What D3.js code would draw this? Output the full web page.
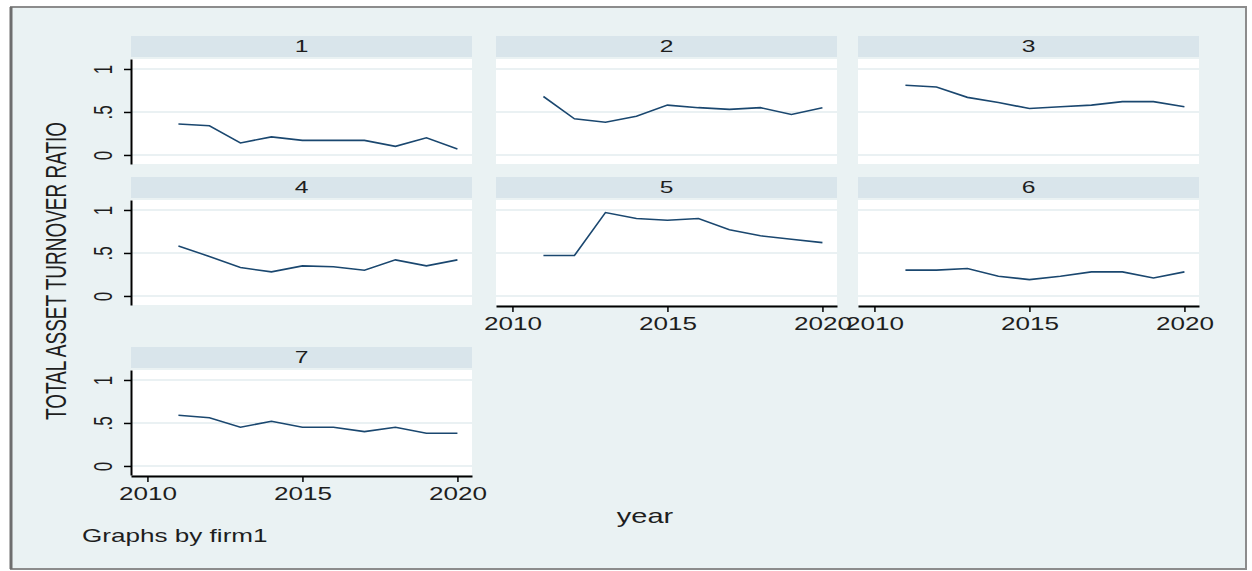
<!DOCTYPE html>
<html>
<head>
<meta charset="utf-8">
<script src="https://cdn.jsdelivr.net/npm/d3@7"></script>
<style>
  body { margin: 0; background: #fff; }
  text { font-family: "Liberation Sans", Arial, sans-serif; fill: #1e1e1e; }
</style>
</head>
<body>
<div id="chart"></div>
<script>
// data
const years = [2011, 2012, 2013, 2014, 2015, 2016, 2017, 2018, 2019, 2020];
const firms = ["1", "2", "3", "4", "5", "6", "7"];
const firm1 = [0.36, 0.34, 0.14, 0.21, 0.17, 0.17, 0.17, 0.10, 0.20, 0.07];
const firm2 = [0.68, 0.42, 0.38, 0.45, 0.58, 0.55, 0.53, 0.55, 0.47, 0.55];
const firm3 = [0.81, 0.79, 0.67, 0.61, 0.54, 0.56, 0.58, 0.62, 0.62, 0.56];
const firm4 = [0.58, 0.46, 0.33, 0.28, 0.35, 0.34, 0.30, 0.42, 0.35, 0.42];
const firm5 = [0.47, 0.47, 0.97, 0.90, 0.88, 0.90, 0.77, 0.70, 0.66, 0.62];
const firm6 = [0.30, 0.30, 0.32, 0.23, 0.19, 0.23, 0.28, 0.28, 0.21, 0.28];
const firm7 = [0.59, 0.56, 0.45, 0.52, 0.45, 0.45, 0.40, 0.45, 0.38, 0.38];
const series = [firm1, firm2, firm3, firm4, firm5, firm6, firm7];

const yTicks = [0, 0.5, 1];
const yTickLabels = ["0", ".5", "1"];
const xTicks = [2010, 2015, 2020];

const W = 1252, H = 571;
const bg = "#eaf2f3", strip = "#d9e5eb", lineColor = "#1a476f";

const colLeft = [131, 496, 858];
const rowTop = [36, 177, 347];
const panelW = 341;

const svg = d3.select("#chart").append("svg")
  .attr("width", W)
  .attr("height", H);

// outer graph region
svg.append("rect")
  .attr("x", 11).attr("y", 7)
  .attr("width", 1235).attr("height", 562)
  .attr("fill", bg)
  .attr("stroke", "#8c8c8c")
  .attr("stroke-width", 2);
svg.append("line")
  .attr("x1", 11).attr("x2", 11).attr("y1", 7).attr("y2", 569)
  .attr("stroke", "#6e6e6e").attr("stroke-width", 3);

firms.forEach((f, i) => {
  const col = i % 3, row = Math.floor(i / 3);
  const left = colLeft[col], top = rowTop[row];
  const g = svg.append("g");

  const x = d3.scaleLinear()
    .domain([2009.47, 2020.47])
    .range([left, left + panelW]);
  const y = d3.scaleLinear()
    .domain([-0.105, 1.116])
    .range([top + 128, top + 23]);

  // header strip
  g.append("rect")
    .attr("x", left).attr("y", top)
    .attr("width", panelW).attr("height", 21)
    .attr("fill", strip);
  g.append("text")
    .attr("transform", `translate(${left + panelW / 2},${top + 16}) scale(1.45,1)`)
    .attr("text-anchor", "middle")
    .attr("font-size", 17)
    .text(f);

  // plot region
  g.append("rect")
    .attr("x", left).attr("y", y.range()[1])
    .attr("width", panelW).attr("height", y.range()[0] - y.range()[1])
    .attr("fill", "#fff");

  g.selectAll(".grid")
    .data(yTicks)
    .join("line")
    .attr("x1", left).attr("x2", left + panelW)
    .attr("y1", d => y(d)).attr("y2", d => y(d))
    .attr("stroke", "#e3ecef")
    .attr("stroke-width", 1.5);

  const line = d3.line()
    .x((d, j) => x(years[j]))
    .y(d => y(d));
  g.append("path")
    .datum(series[i])
    .attr("d", line)
    .attr("fill", "none")
    .attr("stroke", lineColor)
    .attr("stroke-width", 1.6);

  // y axis on the first column
  if (col === 0) {
    const ya = g.append("g")
      .attr("transform", `translate(${left},0)`)
      .call(d3.axisLeft(y).tickValues(yTicks)
        .tickFormat((d, k) => yTickLabels[k])
        .tickSize(7).tickSizeOuter(0));
    ya.select(".domain").attr("stroke", "#000").attr("stroke-width", 2);
    ya.selectAll(".tick line").attr("stroke", "#000").attr("stroke-width", 1.5);
    ya.selectAll(".tick text")
      .attr("x", 0).attr("dy", 0)
      .attr("text-anchor", "middle")
      .attr("font-size", 17)
      .attr("fill", "#1e1e1e")
      .attr("transform", "translate(-19,0) scale(1.55,1) rotate(-90)");
  }

  // x axis on the bottom panel of each column
  const isBottom = (i + 3 >= firms.length);
  if (isBottom) {
    const xa = g.append("g")
      .attr("transform", `translate(0,${top + 129})`)
      .call(d3.axisBottom(x).tickValues(xTicks)
        .tickFormat(d3.format("d"))
        .tickSize(6).tickSizeOuter(0));
    xa.select(".domain").attr("stroke", "#000").attr("stroke-width", 2);
    xa.selectAll(".tick line").attr("stroke", "#000").attr("stroke-width", 1.5);
    xa.selectAll(".tick text")
      .attr("y", 0).attr("dy", 0)
      .attr("font-size", 18)
      .attr("fill", "#1e1e1e")
      .attr("transform", "translate(0,24) scale(1.45,1)");
  }
});

// titles
svg.append("text")
  .attr("transform", "translate(66,271) scale(1.55,1) rotate(-90)")
  .attr("text-anchor", "middle")
  .attr("font-size", 19)
  .text("TOTAL ASSET TURNOVER RATIO");

svg.append("text")
  .attr("transform", "translate(645,523) scale(1.45,1)")
  .attr("text-anchor", "middle")
  .attr("font-size", 20)
  .text("year");

svg.append("text")
  .attr("transform", "translate(82,542) scale(1.45,1)")
  .attr("font-size", 18)
  .text("Graphs by firm1");
</script>
</body>
</html>
